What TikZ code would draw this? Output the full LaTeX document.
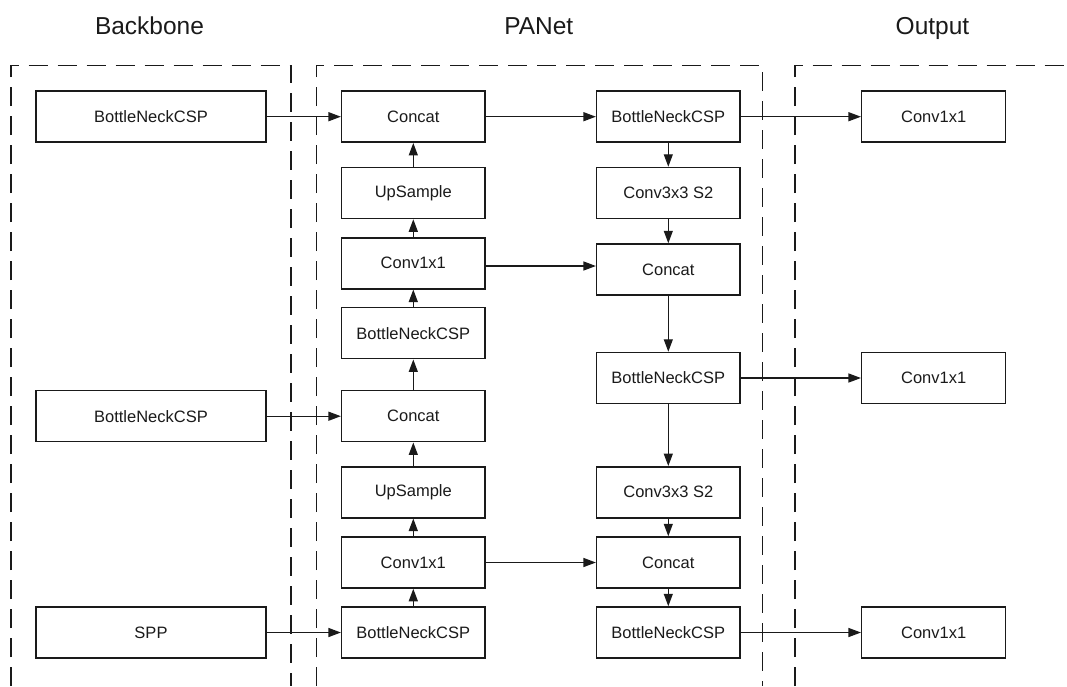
\documentclass[tikz,border=0pt]{standalone}
\usepackage{fontspec}
\setmainfont{Liberation Sans}
\usetikzlibrary{arrows.meta}
\definecolor{ink}{HTML}{1A1A1A}
\begin{document}
\begin{tikzpicture}[x=1pt,y=-1pt,
  blk/.style={draw=ink, line width=1.5pt, minimum height=51pt, inner sep=0pt,
    text=ink, font=\fontsize{16.5}{19}\selectfont},
  bbox/.style={blk, minimum width=230pt},
  cbox/.style={blk, minimum width=143.3pt},
  obox/.style={blk, minimum width=144pt},
  title/.style={anchor=base, text=ink, font=\fontsize{24.5}{28}\selectfont},
  arr/.style={draw=ink, line width=1.3pt, -{Triangle[length=12.5pt,width=9pt]}},
  region/.style={draw=ink, line width=1.7pt, dash pattern=on 19pt off 10pt}
]
\useasboundingbox (0,0) rectangle (1067,686);

% section headings
\node[title] (tB) at (149.5,34) {Backbone};
\node[title] (tP) at (538.8,34) {PANet};
\node[title] (tO) at (932.5,34) {Output};

% dashed region frames (open at the bottom)
\draw[region] (11,686) -- (11,65.5) -- (291,65.5) -- (291,686);
\draw[region] (316.5,686) -- (316.5,65.5) -- (762.5,65.5) -- (762.5,686);
\draw[region] (795,686) -- (795,65.5) -- (1067,65.5);

% backbone
\node[bbox] (bb1) at (151,116.7) {BottleNeckCSP};
\node[bbox] (bb2) at (151,416.2) {BottleNeckCSP};
\node[bbox] (spp) at (151,632.5) {SPP};

% PANet, top-down path
\node[cbox] (lcat1)  at (413.3,116.7) {Concat};
\node[cbox] (lup1)   at (413.3,193)   {UpSample};
\node[cbox] (lconv1) at (413.3,263.3) {Conv1x1};
\node[cbox] (lbn1)   at (413.3,333.2) {BottleNeckCSP};
\node[cbox] (lcat2)  at (413.3,416.2) {Concat};
\node[cbox] (lup2)   at (413.3,492.3) {UpSample};
\node[cbox] (lconv2) at (413.3,562.5) {Conv1x1};
\node[cbox] (lbn2)   at (413.3,632.5) {BottleNeckCSP};

% PANet, bottom-up path
\node[cbox] (rbn1)   at (668.3,116.7) {BottleNeckCSP};
\node[cbox] (rconv1) at (668.3,193)   {Conv3x3 S2};
\node[cbox] (rcat1)  at (668.3,269.5) {Concat};
\node[cbox] (rbn2)   at (668.3,378)   {BottleNeckCSP};
\node[cbox] (rconv2) at (668.3,492.3) {Conv3x3 S2};
\node[cbox] (rcat2)  at (668.3,562.5) {Concat};
\node[cbox] (rbn3)   at (668.3,632.5) {BottleNeckCSP};

% heads
\node[obox] (o1) at (933.7,116.7) {Conv1x1};
\node[obox] (o2) at (933.7,378)   {Conv1x1};
\node[obox] (o3) at (933.7,632.5) {Conv1x1};

% backbone into PANet
\draw[arr] (bb1.east) -- (lcat1.west);
\draw[arr] (bb2.east) -- (lcat2.west);
\draw[arr] (spp.east) -- (lbn2.west);

% upward chain
\draw[arr] (lbn2.north) -- (lconv2.south);
\draw[arr] (lconv2.north) -- (lup2.south);
\draw[arr] (lup2.north) -- (lcat2.south);
\draw[arr] (lcat2.north) -- (lbn1.south);
\draw[arr] (lbn1.north) -- (lconv1.south);
\draw[arr] (lconv1.north) -- (lup1.south);
\draw[arr] (lup1.north) -- (lcat1.south);

% lateral links
\draw[arr] (lcat1.east) -- (rbn1.west);
\draw[arr] (lconv1.east |- 0,266) -- (rcat1.west |- 0,266);
\draw[arr] (lconv2.east) -- (rcat2.west);

% downward chain
\draw[arr] (rbn1.south) -- (rconv1.north);
\draw[arr] (rconv1.south) -- (rcat1.north);
\draw[arr] (rcat1.south) -- (rbn2.north);
\draw[arr] (rbn2.south) -- (rconv2.north);
\draw[arr] (rconv2.south) -- (rcat2.north);
\draw[arr] (rcat2.south) -- (rbn3.north);

% outputs
\draw[arr] (rbn1.east) -- (o1.west);
\draw[arr] (rbn2.east) -- (o2.west);
\draw[arr] (rbn3.east) -- (o3.west);
\end{tikzpicture}
\end{document}
